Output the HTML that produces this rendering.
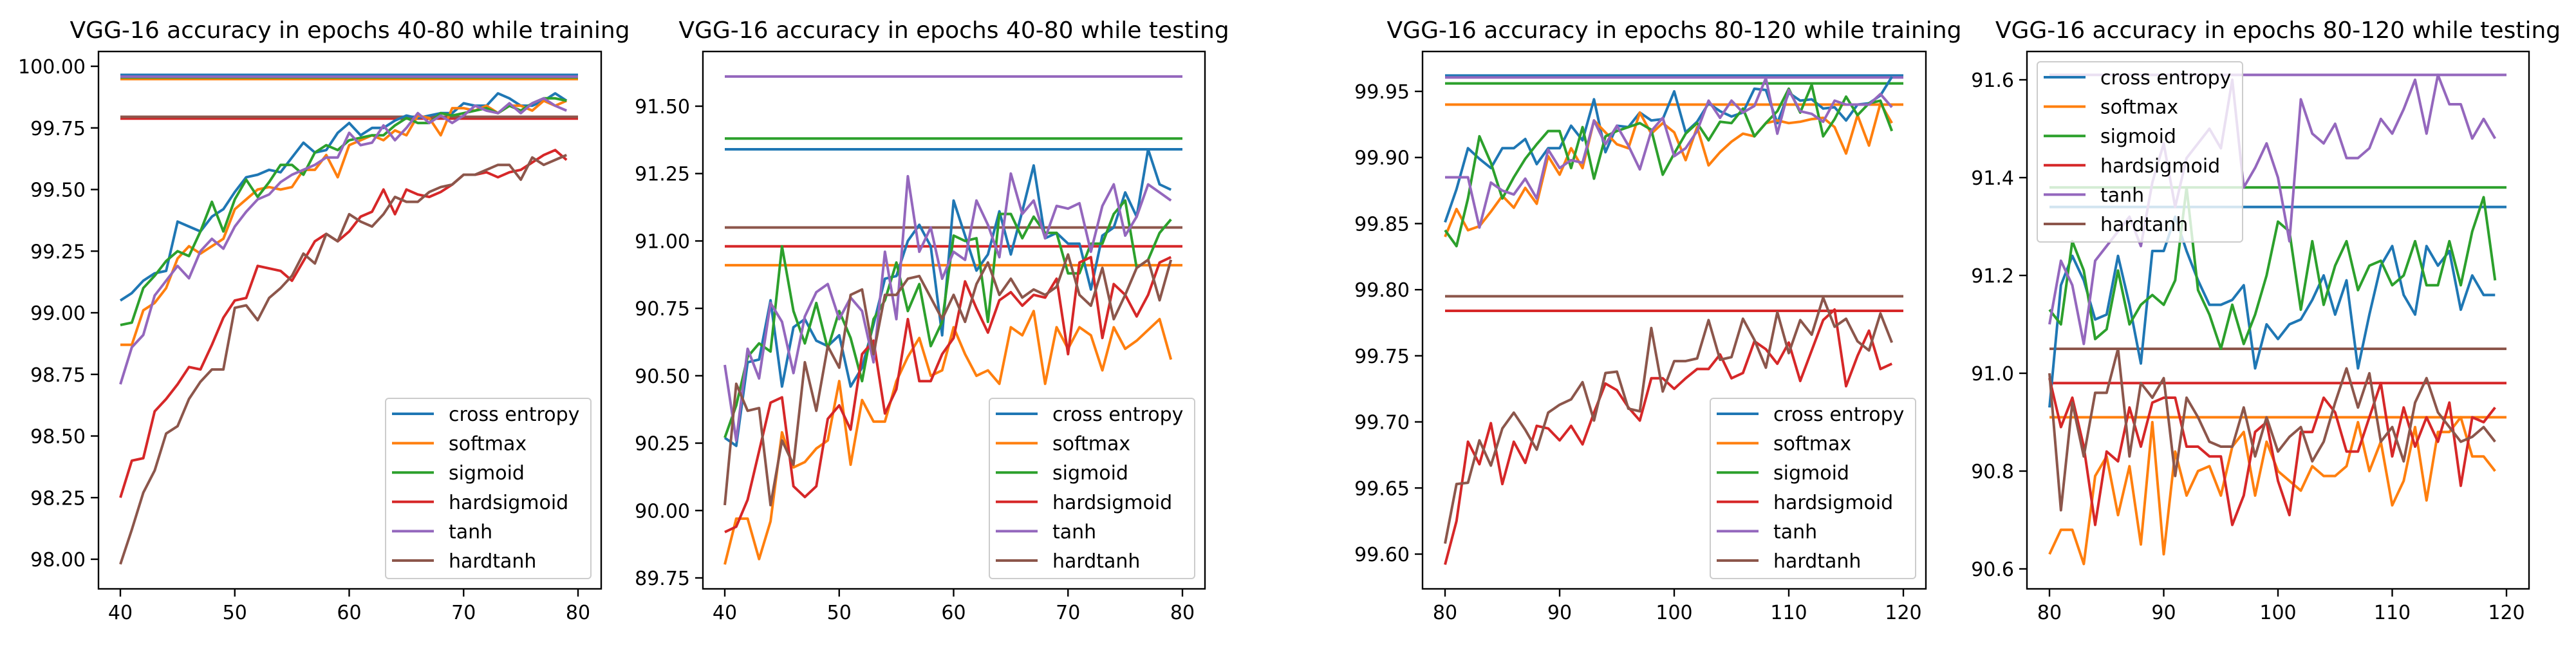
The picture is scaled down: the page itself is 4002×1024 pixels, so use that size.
<!DOCTYPE html>
<html><head><meta charset="utf-8"><style>
html,body{margin:0;padding:0;background:#fff;}
svg{display:block;font-family:"DejaVu Sans","Liberation Sans",sans-serif;}
</style></head><body>
<svg id="fig" width="4002" height="1024" viewBox="0 0 4002 1024" xmlns="http://www.w3.org/2000/svg"></svg>
<script>
const seriesNames = ["cross entropy","softmax","sigmoid","hardsigmoid","tanh","hardtanh"];
const seriesKeys = ["cross-entropy","softmax","sigmoid","hardsigmoid","tanh","hardtanh"];
const colors = ["#1f77b4","#ff7f0e","#2ca02c","#d62728","#9467bd","#8c564b"];

// Panel 1: epochs 40-80 training
const p1Title = "VGG-16 accuracy in epochs 40-80 while training";
const p1Ticks = [98.00,98.25,98.50,98.75,99.00,99.25,99.50,99.75,100.00];
const p1XTicks = [40,50,60,70,80];
const p1Best = [99.965,99.948,99.955,99.788,99.958,99.795];
const p1CE = [99.05,99.08,99.13,99.16,99.17,99.37,99.35,99.33,99.39,99.42,99.49,99.55,99.56,99.58,99.57,99.63,99.69,99.65,99.66,99.73,99.77,99.72,99.75,99.75,99.78,99.80,99.79,99.80,99.81,99.81,99.85,99.84,99.84,99.89,99.87,99.84,99.84,99.86,99.89,99.86];
const p1SM = [98.87,98.87,99.01,99.04,99.10,99.22,99.27,99.24,99.27,99.30,99.42,99.46,99.50,99.51,99.50,99.51,99.58,99.58,99.64,99.55,99.68,99.70,99.72,99.70,99.74,99.72,99.80,99.79,99.72,99.83,99.83,99.82,99.84,99.81,99.84,99.84,99.82,99.86,99.84,99.86];
const p1SG = [98.95,98.96,99.10,99.15,99.21,99.25,99.23,99.33,99.45,99.33,99.46,99.54,99.47,99.53,99.60,99.60,99.56,99.65,99.68,99.66,99.70,99.71,99.72,99.72,99.76,99.79,99.77,99.77,99.81,99.80,99.81,99.82,99.83,99.81,99.84,99.82,99.85,99.87,99.87,99.86];
const p1HS = [98.25,98.40,98.41,98.60,98.65,98.71,98.78,98.77,98.87,98.98,99.05,99.06,99.19,99.18,99.17,99.13,99.21,99.29,99.32,99.29,99.33,99.39,99.41,99.50,99.40,99.50,99.48,99.47,99.49,99.52,99.56,99.56,99.57,99.55,99.57,99.58,99.61,99.64,99.66,99.62];
const p1TH = [98.71,98.86,98.91,99.07,99.13,99.19,99.14,99.25,99.30,99.26,99.35,99.41,99.46,99.48,99.53,99.56,99.58,99.60,99.63,99.63,99.73,99.68,99.69,99.76,99.70,99.75,99.81,99.77,99.80,99.77,99.80,99.84,99.82,99.81,99.85,99.81,99.85,99.87,99.84,99.82];
const p1HT = [97.98,98.12,98.27,98.36,98.51,98.54,98.65,98.72,98.77,98.77,99.02,99.03,98.97,99.06,99.10,99.15,99.24,99.20,99.32,99.29,99.40,99.37,99.35,99.40,99.47,99.45,99.45,99.49,99.51,99.52,99.56,99.56,99.58,99.60,99.60,99.54,99.63,99.60,99.62,99.64];

// Panel 2: epochs 40-80 testing
const p2Title = "VGG-16 accuracy in epochs 40-80 while testing";
const p2Ticks = [89.75,90.00,90.25,90.50,90.75,91.00,91.25,91.50];
const p2XTicks = [40,50,60,70,80];
const p2Best = [91.34,90.91,91.38,90.98,91.61,91.05];
const p2CE = [90.27,90.24,90.55,90.56,90.78,90.46,90.68,90.71,90.63,90.61,90.65,90.46,90.53,90.69,90.86,90.87,91.00,91.06,90.98,90.65,91.15,91.02,90.89,90.95,91.11,90.95,91.11,91.28,91.01,91.03,90.99,90.99,90.82,91.02,91.05,91.18,91.09,91.34,91.21,91.19];
const p2SM = [89.80,89.97,89.97,89.82,89.96,90.29,90.16,90.18,90.23,90.26,90.48,90.17,90.41,90.33,90.33,90.48,90.57,90.64,90.50,90.52,90.68,90.58,90.50,90.52,90.47,90.68,90.65,90.74,90.47,90.68,90.60,90.68,90.65,90.52,90.68,90.60,90.63,90.67,90.71,90.56];
const p2SG = [90.27,90.39,90.57,90.62,90.59,90.98,90.74,90.62,90.77,90.60,90.74,90.64,90.48,90.71,90.78,90.92,90.74,90.84,90.61,90.70,91.02,91.00,91.01,90.70,91.10,91.10,91.01,91.09,91.03,91.03,90.88,90.88,90.99,90.99,91.10,91.15,90.90,90.93,91.03,91.08];
const p2HS = [89.92,89.94,90.04,90.22,90.40,90.42,90.09,90.05,90.09,90.34,90.39,90.30,90.58,90.63,90.36,90.45,90.71,90.48,90.48,90.58,90.64,90.85,90.75,90.66,90.78,90.81,90.76,90.80,90.79,90.86,90.58,90.92,90.94,90.64,90.84,90.80,90.72,90.80,90.92,90.94];
const p2TH = [90.54,90.26,90.60,90.49,90.77,90.70,90.51,90.72,90.81,90.84,90.71,90.79,90.74,90.55,90.96,90.71,91.24,90.96,91.05,90.86,90.96,90.93,91.15,91.06,90.94,91.25,91.10,91.15,91.01,91.13,91.12,91.14,90.96,91.13,91.21,91.02,91.09,91.21,91.18,91.15];
const p2HT = [90.02,90.47,90.37,90.38,90.02,90.26,90.17,90.55,90.37,90.61,90.53,90.80,90.82,90.58,90.80,90.80,90.86,90.87,90.79,90.71,90.80,90.70,90.84,90.92,90.80,90.86,90.79,90.82,90.80,90.83,90.95,90.80,90.76,90.90,90.71,90.80,90.90,90.93,90.78,90.93];

// Panel 3: epochs 80-120 training
const p3Title = "VGG-16 accuracy in epochs 80-120 while training";
const p3Ticks = [99.60,99.65,99.70,99.75,99.80,99.85,99.90,99.95];
const p3XTicks = [80,90,100,110,120];
const p3Best = [99.962,99.940,99.956,99.784,99.9605,99.795];
const p3CE = [99.851,99.876,99.907,99.899,99.892,99.907,99.907,99.914,99.895,99.907,99.907,99.924,99.913,99.944,99.904,99.924,99.923,99.934,99.928,99.929,99.950,99.919,99.927,99.941,99.935,99.931,99.934,99.952,99.951,99.926,99.949,99.943,99.944,99.937,99.938,99.928,99.940,99.941,99.947,99.961];
const p3SM = [99.840,99.861,99.845,99.848,99.859,99.871,99.862,99.877,99.865,99.901,99.887,99.907,99.892,99.928,99.919,99.910,99.907,99.934,99.918,99.926,99.919,99.898,99.923,99.894,99.904,99.912,99.918,99.916,99.926,99.928,99.926,99.927,99.929,99.930,99.923,99.903,99.932,99.909,99.941,99.926];
const p3SG = [99.845,99.833,99.869,99.916,99.896,99.869,99.885,99.899,99.910,99.920,99.920,99.892,99.923,99.884,99.916,99.920,99.923,99.926,99.921,99.887,99.903,99.918,99.926,99.913,99.927,99.926,99.937,99.916,99.926,99.935,99.952,99.934,99.955,99.916,99.929,99.946,99.932,99.941,99.943,99.920];
const p3HS = [99.592,99.625,99.685,99.668,99.699,99.653,99.685,99.669,99.697,99.695,99.686,99.697,99.683,99.707,99.729,99.724,99.711,99.701,99.733,99.733,99.725,99.733,99.740,99.740,99.751,99.733,99.737,99.761,99.755,99.744,99.760,99.731,99.754,99.777,99.785,99.727,99.750,99.769,99.740,99.744];
const p3TH = [99.885,99.885,99.885,99.847,99.881,99.875,99.872,99.884,99.869,99.906,99.892,99.898,99.896,99.928,99.910,99.924,99.909,99.891,99.920,99.930,99.901,99.907,99.920,99.943,99.930,99.943,99.934,99.939,99.960,99.918,99.951,99.935,99.933,99.927,99.943,99.940,99.940,99.940,99.948,99.938];
const p3HT = [99.608,99.653,99.654,99.686,99.667,99.695,99.707,99.694,99.679,99.707,99.713,99.717,99.730,99.701,99.737,99.738,99.710,99.708,99.771,99.723,99.746,99.746,99.748,99.777,99.747,99.749,99.778,99.762,99.741,99.783,99.752,99.777,99.766,99.794,99.772,99.778,99.761,99.754,99.782,99.760];

// Panel 4: epochs 80-120 testing
const p4Title = "VGG-16 accuracy in epochs 80-120 while testing";
const p4Ticks = [90.6,90.8,91.0,91.2,91.4,91.6];
const p4XTicks = [80,90,100,110,120];
const p4Best = [91.34,90.91,91.38,90.98,91.61,91.05];
const p4CE = [90.93,91.18,91.24,91.19,91.11,91.12,91.24,91.14,91.02,91.25,91.25,91.32,91.25,91.19,91.14,91.14,91.15,91.18,91.01,91.10,91.07,91.10,91.11,91.15,91.20,91.12,91.19,91.01,91.12,91.22,91.26,91.16,91.12,91.26,91.22,91.25,91.13,91.20,91.16,91.16];
const p4SM = [90.63,90.68,90.68,90.61,90.79,90.83,90.71,90.81,90.65,90.90,90.63,90.84,90.75,90.80,90.81,90.75,90.85,90.88,90.75,90.86,90.80,90.78,90.76,90.81,90.79,90.79,90.81,90.90,90.80,90.86,90.73,90.78,90.89,90.74,90.88,90.88,90.91,90.83,90.83,90.80];
const p4SG = [91.13,91.10,91.27,91.21,91.07,91.09,91.21,91.10,91.14,91.16,91.14,91.19,91.38,91.17,91.12,91.05,91.14,91.06,91.12,91.20,91.31,91.29,91.13,91.27,91.14,91.22,91.27,91.17,91.22,91.23,91.18,91.20,91.27,91.18,91.18,91.27,91.18,91.29,91.36,91.19];
const p4HS = [90.99,90.89,90.95,90.85,90.69,90.84,90.82,90.93,90.85,90.94,90.95,90.95,90.85,90.85,90.83,90.83,90.69,90.75,90.88,90.90,90.78,90.71,90.88,90.88,90.95,90.92,90.84,90.84,90.91,90.98,90.83,90.93,90.85,90.91,90.86,90.94,90.77,90.91,90.90,90.93];
const p4TH = [91.10,91.23,91.18,91.06,91.23,91.26,91.29,91.32,91.26,91.39,91.47,91.34,91.44,91.47,91.50,91.46,91.60,91.38,91.42,91.47,91.40,91.27,91.56,91.49,91.47,91.51,91.44,91.44,91.46,91.52,91.49,91.54,91.60,91.49,91.61,91.55,91.55,91.48,91.52,91.48];
const p4HT = [91.00,90.72,90.94,90.83,90.96,90.96,91.05,90.83,90.98,90.95,90.99,90.79,90.95,90.91,90.86,90.85,90.85,90.93,90.83,90.91,90.84,90.87,90.89,90.82,90.86,90.94,91.01,90.93,91.00,90.86,90.89,90.82,90.94,90.99,90.92,90.89,90.86,90.87,90.89,90.86];

const NS = "http://www.w3.org/2000/svg";
const fig = document.getElementById("fig");
function mk(tag, attrs, parent){const e=document.createElementNS(NS,tag);for(const k in attrs)e.setAttribute(k,attrs[k]);(parent||fig).appendChild(e);return e;}

const panels = [
 {id:"p1",title:p1Title,ticks:p1Ticks,xt:p1XTicks,best:p1Best,series:[p1CE,p1SM,p1SG,p1HS,p1TH,p1HT],dec:2,
  box:[153,80,934,915],x0:40,x1:80,px0:187,px1:898,v0:98.00,v1:100.00,py0:869,py1:103,leg:"br",start:40},
 {id:"p2",title:p2Title,ticks:p2Ticks,xt:p2XTicks,best:p2Best,series:[p2CE,p2SM,p2SG,p2HS,p2TH,p2HT],dec:2,
  box:[1092,80,1872,915],x0:40,x1:80,px0:1126,px1:1837,v0:89.75,v1:91.50,py0:898,py1:165,leg:"br",start:40},
 {id:"p3",title:p3Title,ticks:p3Ticks,xt:p3XTicks,best:p3Best,series:[p3CE,p3SM,p3SG,p3HS,p3TH,p3HT],dec:2,
  box:[2210,80,2992,915],x0:80,x1:120,px0:2245,px1:2957,v0:99.60,v1:99.95,py0:861,py1:142,leg:"br",start:80},
 {id:"p4",title:p4Title,ticks:p4Ticks,xt:p4XTicks,best:p4Best,series:[p4CE,p4SM,p4SG,p4HS,p4TH,p4HT],dec:1,
  box:[3149,80,3929,915],x0:80,x1:120,px0:3184,px1:3894,v0:90.6,v1:91.6,py0:884,py1:124,leg:"tl",start:80}
];

panels.forEach((P,pi)=>{
  const g = mk("g",{});
  
  
  const X = v => P.px0 + (v-P.x0)*(P.px1-P.px0)/(P.x1-P.x0);
  const Y = v => P.py0 + (v-P.v0)*(P.py1-P.py0)/(P.v1-P.v0);
  const [L,T,R,B] = P.box;
  const cid = "clip"+pi;
  const cp = mk("clipPath",{id:cid},g); mk("rect",{x:L,y:T,width:R-L,height:B-T},cp);
  // title
  const tt = mk("text",{x:(L+R)/2,y:59,"text-anchor":"middle","font-size":"36",fill:"#000"},g);
  tt.textContent = P.title;
  
  
  // y ticks
  P.ticks.forEach(v=>{
    const y=Y(v);
    const tk = mk("line",{x1:L-12,x2:L,y1:y,y2:y,stroke:"#000","stroke-width":2.4},g);
    
    
    const tl = mk("text",{x:L-20,y:y+11,"text-anchor":"end","font-size":"30",fill:"#000"},g);
    tl.textContent = v.toFixed(P.dec);
    
    
  });
  P.xt.forEach(v=>{
    const x=X(v);
    const tk = mk("line",{x1:x,x2:x,y1:B,y2:B+12,stroke:"#000","stroke-width":2.4},g);
    
    
    const tl = mk("text",{x:x,y:962,"text-anchor":"middle","font-size":"30",fill:"#000"},g);
    tl.textContent = String(v);
    
    
  });
  const plot = mk("g",{"clip-path":"url(#"+cid+")"},g);
  
  
  // best lines
  P.best.forEach((v,i)=>{
    const ln = mk("line",{x1:X(P.x0),x2:X(P.x1),y1:Y(v),y2:Y(v),stroke:colors[i],"stroke-width":4},plot);
    
    
  });
  P.series.forEach((arr,i)=>{
    const pts = arr.map((v,k)=>X(P.start+k).toFixed(1)+","+Y(v).toFixed(1)).join(" ");
    const pl = mk("polyline",{points:pts,fill:"none",stroke:colors[i],"stroke-width":4,"stroke-linejoin":"round"},plot);
    
    
  });
  const fr = mk("rect",{x:L,y:T,width:R-L,height:B-T,fill:"none",stroke:"#000","stroke-width":2.4},g);
  
  
  // legend
  const lw=319, lh=280;
  const lx = P.leg==="br" ? R-16-lw : L+16;
  const ly = P.leg==="br" ? B-16-lh : T+16;
  const lg = mk("g",{},g);
  
  
  mk("rect",{x:lx,y:ly,width:lw,height:lh,rx:5,fill:"#fff","fill-opacity":0.8,stroke:"#ccc","stroke-width":2},lg);
  seriesNames.forEach((n,i)=>{
    const cy = ly+24+i*45.6;
    const e = mk("g",{},lg);
    
    
    mk("line",{x1:lx+10,x2:lx+75,y1:cy,y2:cy,stroke:colors[i],"stroke-width":4},e);
    const t = mk("text",{x:lx+98,y:cy+11,"font-size":"30",fill:"#000"},e);
    t.textContent = n;
  });
});
</script>
</body></html>
